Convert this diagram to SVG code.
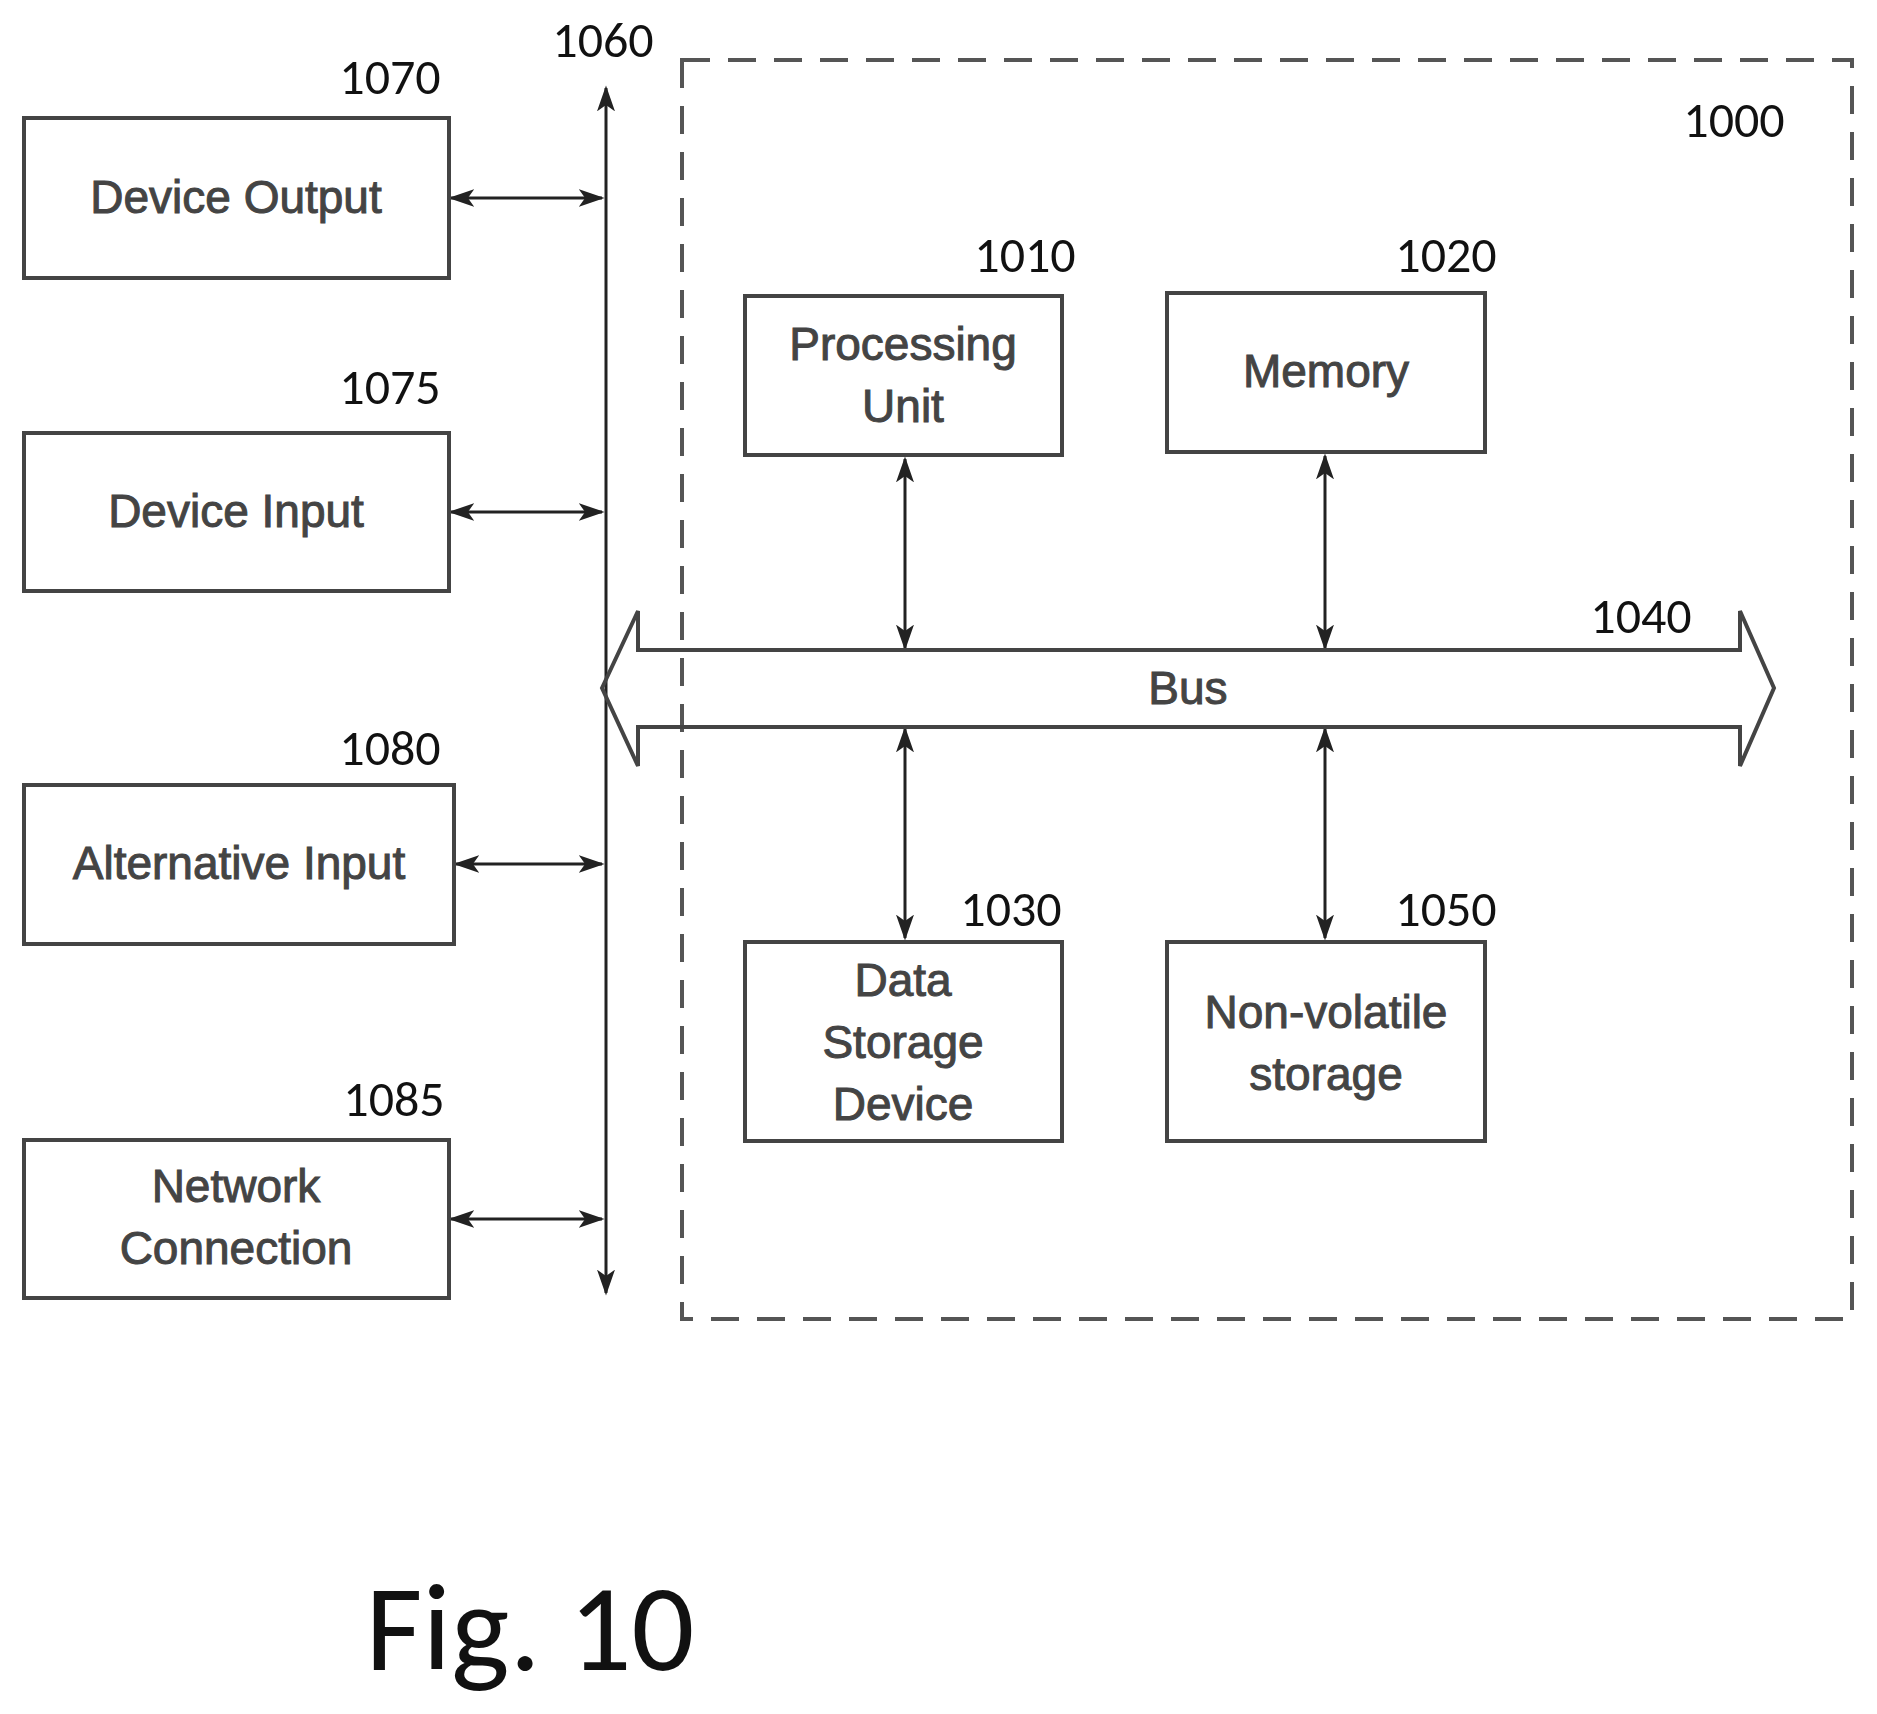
<svg xmlns="http://www.w3.org/2000/svg" width="1877" height="1714" viewBox="0 0 1877 1714">
<defs>
<marker id="a" viewBox="0 0 10 10" refX="9" refY="5" markerWidth="26" markerHeight="18" orient="auto-start-reverse" markerUnits="userSpaceOnUse" preserveAspectRatio="none">
<path d="M0,0 L10,5 L0,10 L2.5,5 Z" fill="#222"/></marker>
<style>
.box{fill:#fff;stroke:#444;stroke-width:4}
.t{font-family:"Liberation Sans",Arial,sans-serif;font-size:46px;fill:#444;text-anchor:middle;stroke:#444;stroke-width:1}
.n{font-family:"Carlito","Liberation Sans",sans-serif;font-size:50px;fill:#111;text-anchor:middle}
.c{stroke:#222;stroke-width:3;fill:none;marker-start:url(#a);marker-end:url(#a)}
</style>
</defs>
<rect width="1877" height="1714" fill="#fff"/>
<rect x="682" y="60" width="1170" height="1259" fill="none" stroke="#555" stroke-width="4" stroke-dasharray="28,18"/>
<g id="connectors">
<line class="c" x1="606" y1="88" x2="606" y2="1293"/>
<line class="c" x1="451" y1="198" x2="602" y2="198"/>
<line class="c" x1="451" y1="512" x2="602" y2="512"/>
<line class="c" x1="456" y1="864" x2="602" y2="864"/>
<line class="c" x1="451" y1="1219" x2="602" y2="1219"/>
<line class="c" x1="905" y1="459" x2="905" y2="648"/>
<line class="c" x1="1325" y1="456" x2="1325" y2="648"/>
<line class="c" x1="905" y1="729" x2="905" y2="938"/>
<line class="c" x1="1325" y1="729" x2="1325" y2="938"/>
</g>
<g id="bus">
<path d="M602,688 L638,611 L638,650 L1740,650 L1740,611 L1774,688 L1740,766 L1740,727 L638,727 L638,766 Z" fill="none" stroke="#444" stroke-width="4"/>
<text class="t" x="1188" y="704">Bus</text>
</g>
<g id="n1070"><rect class="box" x="24" y="118" width="425" height="160"/><text class="t" x="236" y="213">Device Output</text></g>
<g id="n1075"><rect class="box" x="24" y="433" width="425" height="158"/><text class="t" x="236" y="527">Device Input</text></g>
<g id="n1080"><rect class="box" x="24" y="785" width="430" height="159"/><text class="t" x="239" y="879">Alternative Input</text></g>
<g id="n1085"><rect class="box" x="24" y="1140" width="425" height="158"/><text class="t" x="236" y="1202">Network</text><text class="t" x="236" y="1264">Connection</text></g>
<g id="n1010"><rect class="box" x="745" y="296" width="317" height="159"/><text class="t" x="903" y="360">Processing</text><text class="t" x="903" y="422">Unit</text></g>
<g id="n1020"><rect class="box" x="1167" y="293" width="318" height="159"/><text class="t" x="1326" y="387">Memory</text></g>
<g id="n1030"><rect class="box" x="745" y="942" width="317" height="199"/><text class="t" x="903" y="996">Data</text><text class="t" x="903" y="1058">Storage</text><text class="t" x="903" y="1120">Device</text></g>
<g id="n1050"><rect class="box" x="1167" y="942" width="318" height="199"/><text class="t" x="1326" y="1028">Non-volatile</text><text class="t" x="1326" y="1090">storage</text></g>
<g id="labels">
<text class="n" x="603" y="57">1060</text>
<text class="n" x="390" y="94">1070</text>
<text class="n" x="1734" y="137">1000</text>
<text class="n" x="1025" y="272">1010</text>
<text class="n" x="1446" y="272">1020</text>
<text class="n" x="1641" y="633">1040</text>
<text class="n" x="390" y="404">1075</text>
<text class="n" x="390" y="765">1080</text>
<text class="n" x="394" y="1116">1085</text>
<text class="n" x="1011" y="926">1030</text>
<text class="n" x="1446" y="926">1050</text>
<text x="530" y="1670" style="font-family:'Carlito','Liberation Sans',sans-serif;font-size:124px;fill:#111;text-anchor:middle">Fig. 10</text>
</g>
</svg>
